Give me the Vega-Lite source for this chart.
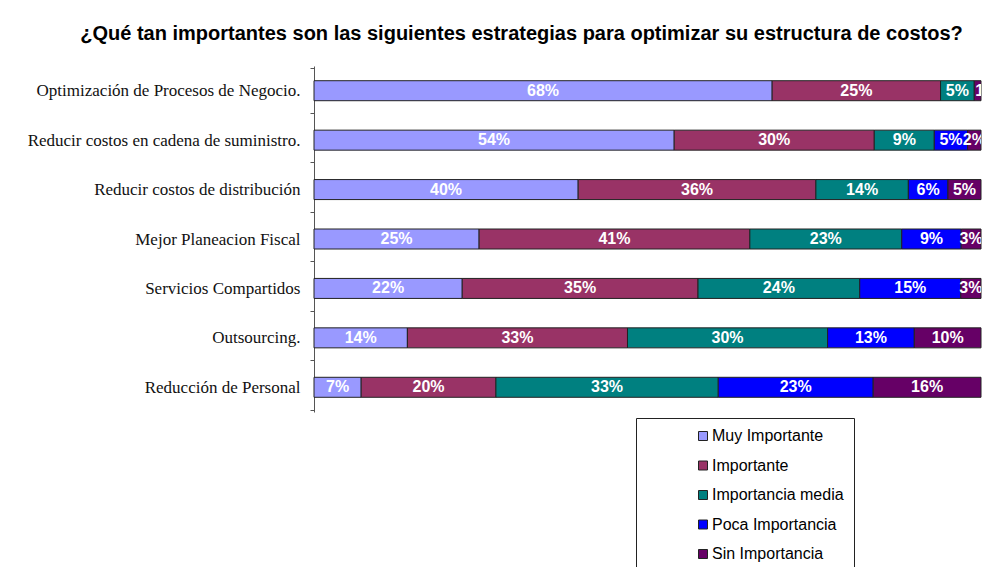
{
  "$schema": "https://vega.github.io/schema/vega-lite/v6.json",
  "autosize": {"type": "none"},
  "width": 667,
  "height": 346,
  "padding": {"left": 314, "top": 66, "right": 12, "bottom": 155},
  "background": "white",
  "title": {
    "text": "¿Qué tan importantes son las siguientes estrategias para optimizar su estructura de costos?",
    "font": "Liberation Sans",
    "fontSize": 20,
    "fontWeight": "bold",
    "color": "black",
    "anchor": "middle",
    "dx": -126,
    "offset": 13
  },
  "data": {
    "values": [
      {"estrategia": "Optimización de Procesos de Negocio.", "nivel": "Muy Importante", "k": 1, "v": 0.68},
      {"estrategia": "Optimización de Procesos de Negocio.", "nivel": "Importante", "k": 2, "v": 0.25},
      {"estrategia": "Optimización de Procesos de Negocio.", "nivel": "Importancia media", "k": 3, "v": 0.05},
      {"estrategia": "Optimización de Procesos de Negocio.", "nivel": "Sin Importancia", "k": 5, "v": 0.01},
      {"estrategia": "Reducir costos en cadena de suministro.", "nivel": "Muy Importante", "k": 1, "v": 0.54},
      {"estrategia": "Reducir costos en cadena de suministro.", "nivel": "Importante", "k": 2, "v": 0.30},
      {"estrategia": "Reducir costos en cadena de suministro.", "nivel": "Importancia media", "k": 3, "v": 0.09},
      {"estrategia": "Reducir costos en cadena de suministro.", "nivel": "Poca Importancia", "k": 4, "v": 0.05},
      {"estrategia": "Reducir costos en cadena de suministro.", "nivel": "Sin Importancia", "k": 5, "v": 0.02},
      {"estrategia": "Reducir costos de distribución", "nivel": "Muy Importante", "k": 1, "v": 0.40},
      {"estrategia": "Reducir costos de distribución", "nivel": "Importante", "k": 2, "v": 0.36},
      {"estrategia": "Reducir costos de distribución", "nivel": "Importancia media", "k": 3, "v": 0.14},
      {"estrategia": "Reducir costos de distribución", "nivel": "Poca Importancia", "k": 4, "v": 0.06},
      {"estrategia": "Reducir costos de distribución", "nivel": "Sin Importancia", "k": 5, "v": 0.05},
      {"estrategia": "Mejor Planeacion Fiscal", "nivel": "Muy Importante", "k": 1, "v": 0.25},
      {"estrategia": "Mejor Planeacion Fiscal", "nivel": "Importante", "k": 2, "v": 0.41},
      {"estrategia": "Mejor Planeacion Fiscal", "nivel": "Importancia media", "k": 3, "v": 0.23},
      {"estrategia": "Mejor Planeacion Fiscal", "nivel": "Poca Importancia", "k": 4, "v": 0.09},
      {"estrategia": "Mejor Planeacion Fiscal", "nivel": "Sin Importancia", "k": 5, "v": 0.03},
      {"estrategia": "Servicios Compartidos", "nivel": "Muy Importante", "k": 1, "v": 0.22},
      {"estrategia": "Servicios Compartidos", "nivel": "Importante", "k": 2, "v": 0.35},
      {"estrategia": "Servicios Compartidos", "nivel": "Importancia media", "k": 3, "v": 0.24},
      {"estrategia": "Servicios Compartidos", "nivel": "Poca Importancia", "k": 4, "v": 0.15},
      {"estrategia": "Servicios Compartidos", "nivel": "Sin Importancia", "k": 5, "v": 0.03},
      {"estrategia": "Outsourcing.", "nivel": "Muy Importante", "k": 1, "v": 0.14},
      {"estrategia": "Outsourcing.", "nivel": "Importante", "k": 2, "v": 0.33},
      {"estrategia": "Outsourcing.", "nivel": "Importancia media", "k": 3, "v": 0.30},
      {"estrategia": "Outsourcing.", "nivel": "Poca Importancia", "k": 4, "v": 0.13},
      {"estrategia": "Outsourcing.", "nivel": "Sin Importancia", "k": 5, "v": 0.10},
      {"estrategia": "Reducción de Personal", "nivel": "Muy Importante", "k": 1, "v": 0.07},
      {"estrategia": "Reducción de Personal", "nivel": "Importante", "k": 2, "v": 0.20},
      {"estrategia": "Reducción de Personal", "nivel": "Importancia media", "k": 3, "v": 0.33},
      {"estrategia": "Reducción de Personal", "nivel": "Poca Importancia", "k": 4, "v": 0.23},
      {"estrategia": "Reducción de Personal", "nivel": "Sin Importancia", "k": 5, "v": 0.16}
    ]
  },
  "encoding": {
    "y": {
      "field": "estrategia",
      "type": "nominal",
      "sort": null,
      "title": null,
      "axis": {
        "labelFont": "Liberation Serif",
        "labelFontSize": 17,
        "labelColor": "#111",
        "labelPadding": 10,
        "tickBand": "extent",
        "tickSize": 4,
        "tickColor": "#555",
        "domainColor": "#555",
        "labelLimit": 400
      }
    },
    "x": {
      "field": "v",
      "type": "quantitative",
      "stack": "normalize",
      "axis": null,
      "scale": {"domain": [0, 1], "nice": false}
    },
    "order": {"field": "k", "type": "ordinal"}
  },
  "layer": [
    {
      "mark": {"type": "bar", "size": 20, "stroke": "#222", "strokeWidth": 1},
      "encoding": {
        "color": {
          "field": "nivel",
          "type": "nominal",
          "title": null,
          "scale": {
            "domain": ["Muy Importante", "Importante", "Importancia media", "Poca Importancia", "Sin Importancia"],
            "range": ["#9999FF", "#993366", "#008080", "#0000FF", "#660066"]
          },
          "legend": {
            "orient": "none",
            "legendX": 322,
            "legendY": 352,
            "padding": 10,
            "fillColor": "white",
            "strokeColor": "#222",
            "symbolType": "square",
            "symbolSize": 81,
            "symbolStrokeColor": "#222",
            "symbolStrokeWidth": 1,
            "symbolOffset": 49,
            "labelOffset": 1,
            "labelFont": "Liberation Sans",
            "labelFontSize": 16,
            "labelColor": "black",
            "rowPadding": 13.5,
            "labelLimit": 300
          }
        }
      }
    },
    {
      "mark": {"type": "text", "clip": true, "color": "white", "font": "Liberation Sans", "fontWeight": "bold", "fontSize": 16, "baseline": "middle", "align": "center"},
      "encoding": {
        "x": {"field": "v", "type": "quantitative", "stack": "normalize", "bandPosition": 0.5},
        "text": {"condition": {"test": "datum.v < 0.015", "value": ""}, "field": "v", "type": "quantitative", "format": ".0%"}
      }
    },
    {
      "mark": {"type": "text", "clip": true, "color": "white", "font": "Liberation Sans", "fontWeight": "bold", "fontSize": 16, "baseline": "middle", "align": "left", "dx": 1},
      "encoding": {
        "x": {"field": "v", "type": "quantitative", "stack": "normalize", "bandPosition": 0},
        "text": {"condition": {"test": "datum.v >= 0.015", "value": ""}, "field": "v", "type": "quantitative", "format": ".0%"}
      }
    }
  ],
  "config": {"view": {"stroke": null}}
}
